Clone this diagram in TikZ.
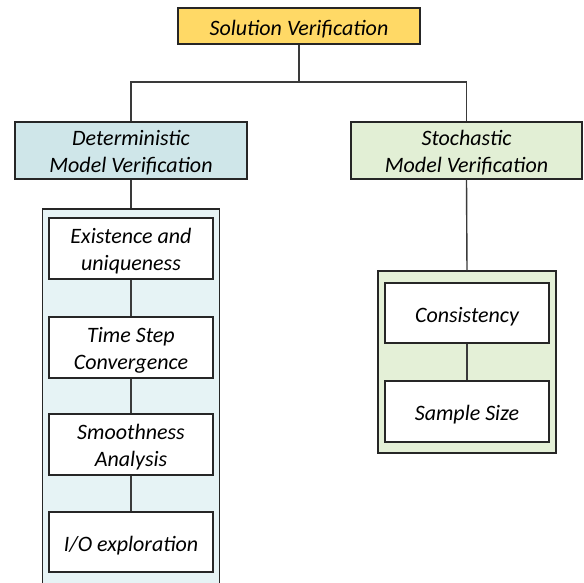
\documentclass[tikz,border=0pt]{standalone}
\usepackage{fontspec}
\setmainfont{Carlito}
\definecolor{topfill}{HTML}{FFD966}
\definecolor{detfill}{HTML}{CFE6E9}
\definecolor{detouter}{HTML}{E6F3F5}
\definecolor{stofill}{HTML}{E2EFD5}
\definecolor{stoouter}{HTML}{E4F0D7}
\definecolor{edge}{HTML}{262626}
\definecolor{conn}{HTML}{3A3A3A}
\newcommand{\twolines}[2]{\raisebox{-3pt}[\height][\depth]{\begin{tabular}{@{}c@{}}#1\\#2\end{tabular}}}
\begin{document}
\begin{tikzpicture}[x=1pt,y=-1pt,
  box/.style={draw=edge,line width=1.4pt,inner sep=0pt,
    font=\fontsize{22}{27}\selectfont\itshape},
  oneline/.style={execute at begin node={\rule{0pt}{22pt}}},
  outerbox/.style={draw=edge,line width=1.2pt,inner sep=0pt},
  innerbox/.style={box,fill=white,minimum width=164pt},
  link/.style={draw=conn,line width=1.4pt}]
\useasboundingbox (0,0) rectangle (584,583);
\node[box,oneline,fill=topfill,minimum width=242pt,minimum height=36pt] (top) at (299,26) {Solution Verification};
\node[box,fill=detfill,minimum width=232pt,minimum height=57pt] (det) at (131,150.5) {\twolines{Deterministic}{Model Verification}};
\node[box,fill=stofill,minimum width=231pt,minimum height=57pt] (sto) at (466.5,150.5) {\twolines{Stochastic}{Model Verification}};
\node[outerbox,fill=detouter,minimum width=177pt,minimum height=376pt] (lout) at (131,397) {};
\node[outerbox,fill=stoouter,minimum width=178pt,minimum height=182pt] (rout) at (467,362) {};
\node[innerbox,minimum height=61pt] (e1) at (131,248.5) {\twolines{Existence and}{uniqueness}};
\node[innerbox,minimum height=61pt] (e2) at (131,347.5) {\twolines{Time Step}{Convergence}};
\node[innerbox,minimum height=61pt] (e3) at (131,444.5) {\twolines{Smoothness}{Analysis}};
\node[innerbox,oneline,minimum height=60pt] (e4) at (131,542) {I/O exploration};
\node[innerbox,oneline,minimum height=60pt] (s1) at (467,313) {Consistency};
\node[innerbox,oneline,minimum height=61pt] (s2) at (467,411.5) {Sample Size};
\coordinate (split) at (299,82);
\draw[link] (top.south) -- (split);
\draw[link] (det.north) |- (split) -| (sto.north);
\draw[link] (det.south) -- (lout.north);
\draw[link] (sto.south) -- (rout.north);
\draw[link] (e1) -- (e2);
\draw[link] (e2) -- (e3);
\draw[link] (e3) -- (e4);
\draw[link] (s1) -- (s2);
\end{tikzpicture}
\end{document}
